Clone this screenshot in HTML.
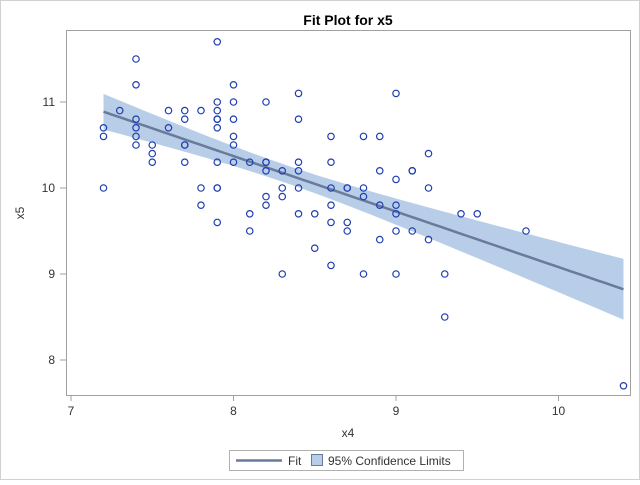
<!DOCTYPE html>
<html><head><meta charset="utf-8"><style>
body{margin:0;background:#fff;font-family:"Liberation Sans",sans-serif}
svg text{font-family:"Liberation Sans",sans-serif}
</style></head><body>
<svg id="c" width="640" height="480" xmlns="http://www.w3.org/2000/svg">
<rect x="0.5" y="0.5" width="639" height="479" fill="#fff" stroke="#d0d0d0"/>
<text x="348" y="25" text-anchor="middle" font-size="14" font-weight="bold" fill="#000">Fit Plot for x5</text>
<g id="band"></g><g id="fitg"></g><g id="pts"></g>
<rect x="66.5" y="30.5" width="564" height="365" fill="none" stroke="#a0a0a0"/>
<g id="axes"></g>
<text x="348" y="437" text-anchor="middle" font-size="12" fill="#333">x4</text>
<text x="24" y="213" text-anchor="middle" font-size="12" fill="#333" transform="rotate(-90 24 213)">x5</text>
<g>
<rect x="229.5" y="450.5" width="234" height="20" fill="#fff" stroke="#b0b0b0"/>
<line x1="236" y1="460.5" x2="282" y2="460.5" stroke="#6a7a9a" stroke-width="2.5"/>
<text x="288" y="465" font-size="12" fill="#333">Fit</text>
<rect x="311.5" y="454.5" width="11" height="11" fill="#b8cde8" stroke="#6a7a9a"/>
<text x="328" y="465" font-size="12" fill="#333">95% Confidence Limits</text>
</g>
</svg>
<script>
const xTicks=[7,8,9,10];
const yTicks=[8,9,10,11];
const x4=[7.2,7.2,7.2,7.3,7.4,7.4,7.4,7.4,7.4,7.4,7.5,7.5,7.5,7.6,7.6,7.7,7.7,7.7,7.7,7.7,7.8,7.8,7.8,
7.9,7.9,7.9,7.9,7.9,7.9,7.9,7.9,7.9,7.9,8.0,8.0,8.0,8.0,8.0,8.0,8.1,8.1,8.1,8.2,8.2,8.2,8.2,8.2,8.2,
8.3,8.3,8.3,8.3,8.4,8.4,8.4,8.4,8.4,8.4,8.5,8.5,8.6,8.6,8.6,8.6,8.6,8.6,8.7,8.7,8.7,8.7,8.8,8.8,8.8,8.8,
8.9,8.9,8.9,8.9,9.0,9.0,9.0,9.0,9.0,9.0,9.1,9.1,9.1,9.2,9.2,9.2,9.3,9.3,9.4,9.5,9.8,10.4];
const x5=[10.7,10.6,10.0,10.9,11.5,11.2,10.8,10.7,10.6,10.5,10.5,10.4,10.3,10.9,10.7,10.9,10.8,10.5,10.5,10.3,10.9,10.0,9.8,
11.7,11.0,10.9,10.8,10.8,10.7,10.3,10.0,10.0,9.6,11.2,11.0,10.8,10.6,10.5,10.3,10.3,9.7,9.5,11.0,10.3,10.3,10.2,9.9,9.8,
10.2,10.0,9.9,9.0,11.1,10.8,10.3,10.2,10.0,9.7,9.7,9.3,10.6,10.3,10.0,9.8,9.6,9.1,10.0,10.0,9.6,9.5,10.6,10.0,9.9,9.0,
10.6,10.2,9.8,9.4,11.1,10.1,9.8,9.7,9.5,9.0,10.2,10.2,9.5,10.4,10.0,9.4,9.0,8.5,9.7,9.7,9.5,7.7];
const NS='http://www.w3.org/2000/svg';
const sx=v=>71+(v-7)*162.5;
const sy=v=>360-(v-8)*86;
function mk(t,a,p){const e=document.createElementNS(NS,t);for(const k in a)e.setAttribute(k,a[k]);p.appendChild(e);return e;}
// regression
const n=x4.length;let mx=0,my=0;for(let i=0;i<n;i++){mx+=x4[i];my+=x5[i];}mx/=n;my/=n;
let sxx=0,sxy=0;for(let i=0;i<n;i++){sxx+=(x4[i]-mx)**2;sxy+=(x4[i]-mx)*(x5[i]-my);}
const b=sxy/sxx,a=my-b*mx;let sse=0;for(let i=0;i<n;i++)sse+=(x5[i]-a-b*x4[i])**2;
const s=Math.sqrt(sse/(n-2)),t=1.98;
const xmin=Math.min(...x4),xmax=Math.max(...x4);
const up=[],lo=[],fl=[];
for(let k=0;k<=60;k++){const x=xmin+(xmax-xmin)*k/60;const f=a+b*x;const h=t*s*Math.sqrt(1/n+(x-mx)**2/sxx);
up.push(sx(x)+','+sy(f+h));lo.unshift(sx(x)+','+sy(f-h));fl.push(sx(x)+','+sy(f));}
const band=mk('polygon',{points:up.concat(lo).join(' '),fill:'#b8cde8'},document.getElementById('band'));


const fit=mk('polyline',{points:fl.join(' '),fill:'none',stroke:'#6a7a9a','stroke-width':2.5},document.getElementById('fitg'));


const pg=document.getElementById('pts');
for(let i=0;i<n;i++){const c=mk('circle',{cx:sx(x4[i]),cy:sy(x5[i]),r:3.2,fill:'none',stroke:'#1f3fb0','stroke-width':1.2},pg);

}
const ax=document.getElementById('axes');
xTicks.forEach(v=>{const l=mk('line',{x1:sx(v),y1:395,x2:sx(v),y2:401,stroke:'#a0a0a0'},ax);


const tx=mk('text',{x:sx(v),y:415,'text-anchor':'middle','font-size':12,fill:'#333'},ax);tx.textContent=v;

});
yTicks.forEach(v=>{const l=mk('line',{x1:60,y1:sy(v),x2:66,y2:sy(v),stroke:'#a0a0a0'},ax);


const tx=mk('text',{x:55,y:sy(v)+4,'text-anchor':'end','font-size':12,fill:'#333'},ax);tx.textContent=v;

});
</script>
</body></html>
